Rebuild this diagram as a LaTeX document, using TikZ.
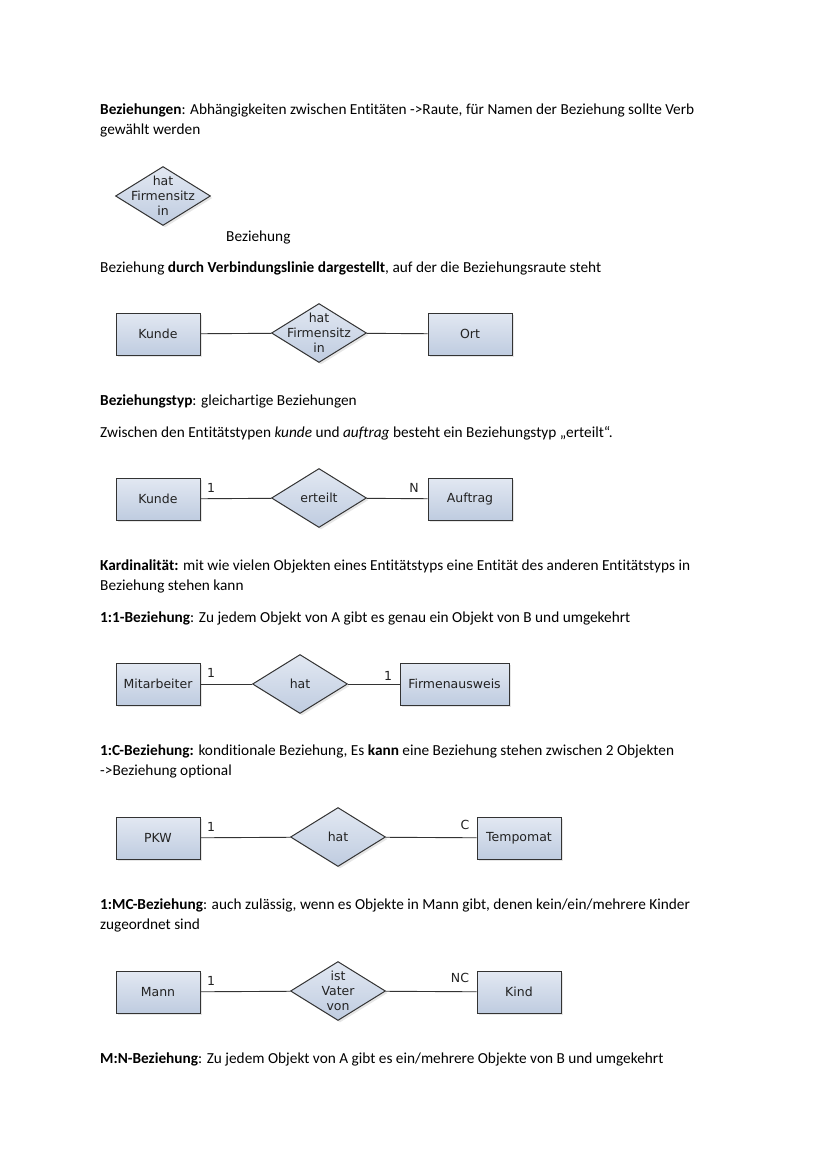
\documentclass[tikz,border=0pt]{standalone}
\usepackage{fontspec}
\setmainfont{Carlito}[Ligatures=NoCommon]
\newfontfamily\erfont{DejaVu Sans}
\usetikzlibrary{shapes.geometric,shadows}

\definecolor{erlight}{HTML}{E2E8F2}
\definecolor{erdark}{HTML}{BFCCE0}
\definecolor{erline}{HTML}{333333}
\definecolor{ertext}{HTML}{222222}

\tikzset{
  txt/.style={anchor=base west, inner sep=0pt, font=\fontsize{15.3}{20}\selectfont},
  ent/.style={draw=erline, line width=1pt, top color=erlight, bottom color=erdark,
    minimum width=84pt, minimum height=42pt, inner sep=0pt, text=ertext,
    font=\erfont\fontsize{12.5}{15}\selectfont,
    drop shadow={shadow xshift=2pt, shadow yshift=-2pt, opacity=0.2}},
  rel/.style={ent, diamond, minimum width=95pt, minimum height=59pt},
  reltxt/.style={align=center, inner sep=0pt, text=ertext, font=\erfont\fontsize{12.5}{15}\selectfont},
  card/.style={inner sep=0pt, text=ertext, font=\erfont\fontsize{12.5}{15}\selectfont},
  con/.style={draw=erline, line width=0.9pt},
}

\begin{document}
\begin{tikzpicture}[x=1pt, y=-1pt]
            \useasboundingbox (0,0) rectangle (828,1171);

            \node[txt] (t1) at (100,114.5) {\textbf{Beziehungen}: Abhängigkeiten zwischen Entitäten ->Raute, für Namen der Beziehung sollte Verb};
            \node[txt] (t2) at (100,134.5) {gewählt werden};

            \node[rel, label={[reltxt]center:hat\\Firmensitz\\in}] (hfs) at (163,196) {};
            \node[txt] (bez) at (226,241.5) {Beziehung};

            \node[txt] (t3) at (100,272.5) {Beziehung \textbf{durch Verbindungslinie dargestellt}, auf der die Beziehungsraute steht};

            % Kunde - hat Firmensitz in - Ort
            \node[ent] (kunde) at (158,334) {Kunde};
            \node[rel, label={[reltxt]center:hat\\Firmensitz\\in}] (hfs2) at (319,333) {};
            \node[ent] (ort) at (470,334) {Ort};
            \draw[con] (kunde) -- (hfs2) -- (ort);

            \node[txt] (t4) at (100,405.5) {\textbf{Beziehungstyp}: gleichartige Beziehungen};
            \node[txt] (t5) at (100,437.5) {Zwischen den Entitätstypen \textit{kunde} und \textit{auftrag} besteht ein Beziehungstyp „erteilt“.};

            % Kunde - erteilt - Auftrag
            \node[ent] (kunde2) at (158,499) {Kunde};
            \node[rel] (erteilt) at (319,498) {erteilt};
            \node[ent] (auftrag) at (470,499) {Auftrag};
            \draw[con] (kunde2) -- (erteilt) -- (auftrag);
            \node[card] (k1) at (211,488) {1};
            \node[card] (kn) at (414,488) {N};

            \node[txt] (t6) at (100,570.5) {\textbf{Kardinalität:} mit wie vielen Objekten eines Entitätstyps eine Entität des anderen Entitätstyps in};
            \node[txt] (t7) at (100,590.5) {Beziehung stehen kann};
            \node[txt] (t8) at (100,622.5) {\textbf{1:1-Beziehung}: Zu jedem Objekt von A gibt es genau ein Objekt von B und umgekehrt};

            % Mitarbeiter - hat - Firmenausweis
            \node[ent] (mitarb) at (158,684) {Mitarbeiter};
            \node[rel] (hat1) at (300,684) {hat};
            \node[ent, minimum width=109pt] (ausweis) at (454.5,684) {Firmenausweis};
            \draw[con] (mitarb) -- (hat1) -- (ausweis);
            \node[card] (m1) at (211,673) {1};
            \node[card] (m2) at (388,676) {1};

            \node[txt] (t9) at (100,755.5) {\textbf{1:C-Beziehung:} konditionale Beziehung, Es \textbf{kann} eine Beziehung stehen zwischen 2 Objekten};
            \node[txt] (t10) at (100,775.5) {->Beziehung optional};

            % PKW - hat - Tempomat
            \node[ent] (pkw) at (158,838) {PKW};
            \node[rel] (hat2) at (338,837) {hat};
            \node[ent] (tempo) at (519,838) {Tempomat};
            \draw[con] (pkw) -- (hat2) -- (tempo);
            \node[card] (p1) at (211,827) {1};
            \node[card] (pc) at (465,825) {C};

            \node[txt] (t11) at (100,909.5) {\textbf{1:MC-Beziehung}: auch zulässig, wenn es Objekte in Mann gibt, denen kein/ein/mehrere Kinder};
            \node[txt] (t12) at (100,929.5) {zugeordnet sind};

            % Mann - ist Vater von - Kind
            \node[ent] (mann) at (158,992) {Mann};
            \node[rel, label={[reltxt]center:ist\\Vater\\von}] (vater) at (338,991) {};
            \node[ent] (kind) at (519,992) {Kind};
            \draw[con] (mann) -- (vater) -- (kind);
            \node[card] (v1) at (211,981) {1};
            \node[card] (vnc) at (460,978) {NC};

            \node[txt] (t13) at (100,1063.5) {\textbf{M:N-Beziehung}: Zu jedem Objekt von A gibt es ein/mehrere Objekte von B und umgekehrt};
\end{tikzpicture}
\end{document}
